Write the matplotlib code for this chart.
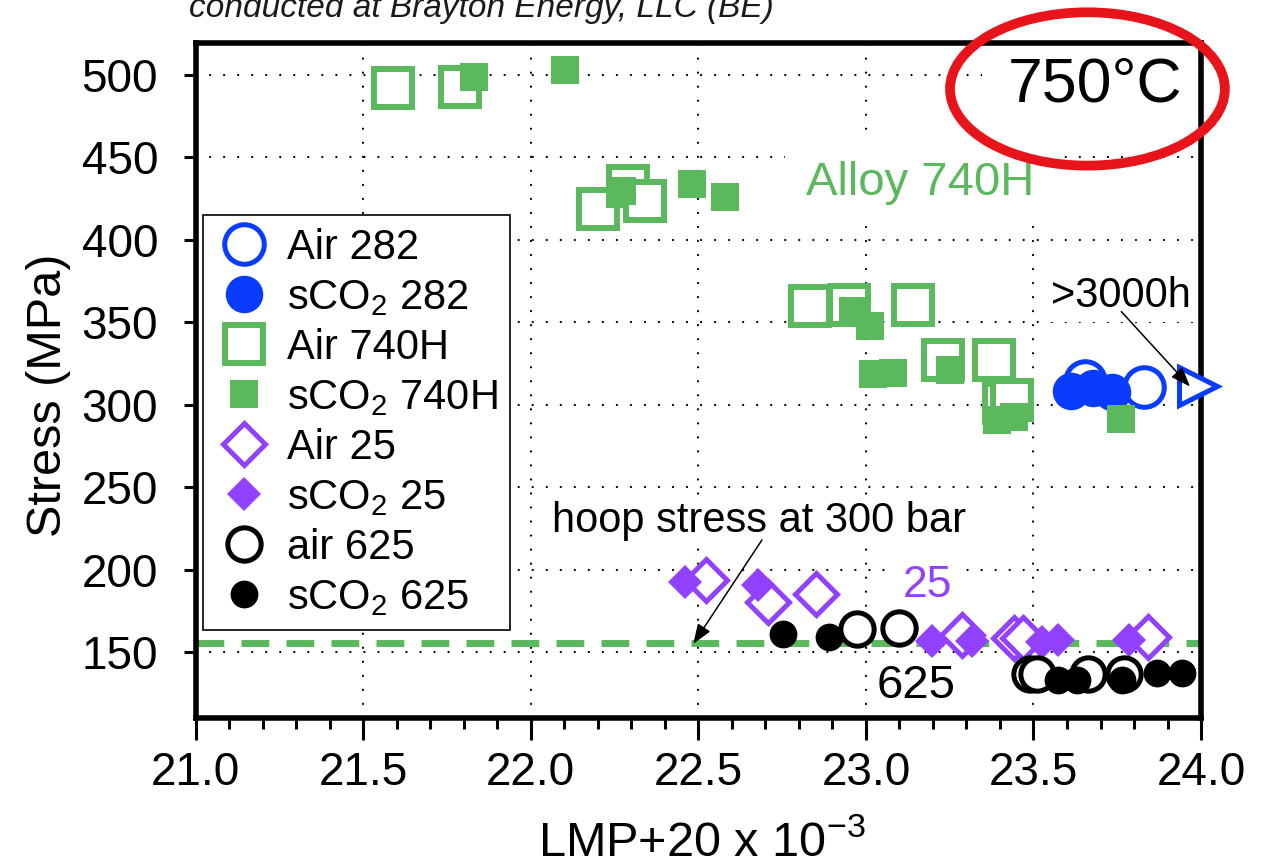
import matplotlib
matplotlib.use("Agg")
import matplotlib.pyplot as plt
from matplotlib.patches import Ellipse

plt.rcParams['font.family'] = ['Liberation Sans', 'DejaVu Sans']
plt.rcParams['mathtext.fontset'] = 'custom'
plt.rcParams['mathtext.rm'] = 'Liberation Sans'
plt.rcParams['mathtext.it'] = 'Liberation Sans:italic'
plt.rcParams['mathtext.bf'] = 'Liberation Sans:bold'
plt.rcParams['lines.scale_dashes'] = False
plt.rcParams['lines.dash_capstyle'] = 'round'

BLUE = '#0a3cff'
GREEN = '#5cb85c'
PURPLE = '#9141ff'

# creep rupture data at 750C, LMP+20 (x 10^-3) vs stress (MPa)
air282_lmp = [23.654, 23.830]
air282_mpa = [314.6, 310.5]
sco2_282_lmp = [23.611, 23.677, 23.733]
sco2_282_mpa = [308.6, 310.0, 307.6]
runout_lmp = [23.99]
runout_mpa = [311.5]

air740_lmp = [21.589, 21.790, 22.200, 22.290, 22.340, 22.833, 22.949, 23.141,
              23.231, 23.382, 23.412, 23.435]
air740_mpa = [491.9, 492.4, 418.9, 432.6, 423.4, 359.8, 360.7, 360.7,
              327.0, 327.0, 301.3, 303.1]
sco2_740_lmp = [21.830, 22.101, 22.271, 22.482, 22.581, 22.962, 23.011, 23.021,
                23.081, 23.252, 23.391, 23.441, 23.762]
sco2_740_mpa = [498.8, 503.0, 429.9, 433.6, 426.2, 357.0, 347.6, 318.8,
                319.3, 321.0, 290.6, 292.3, 291.1]

air25_lmp = [22.524, 22.709, 22.851, 23.288, 23.442, 23.470, 23.843]
air25_mpa = [193.8, 180.6, 185.5, 160.4, 158.4, 158.6, 159.4]
sco2_25_lmp = [22.460, 22.679, 23.198, 23.317, 23.526, 23.574, 23.785]
sco2_25_mpa = [192.4, 190.7, 157.0, 157.0, 156.4, 157.3, 157.3]

air625_lmp = [22.973, 23.099, 23.489, 23.510, 23.663, 23.770]
air625_mpa = [163.7, 164.5, 136.6, 136.6, 136.6, 136.6]
sco2_625_lmp = [22.752, 22.891, 23.574, 23.629, 23.763, 23.869, 23.942]
sco2_625_mpa = [161.2, 159.0, 133.1, 133.1, 133.1, 137.1, 137.1]

hoop_stress = 155.5  # MPa at 300 bar

x_ticks = [21.0, 21.5, 22.0, 22.5, 23.0, 23.5, 24.0]
y_ticks = [150, 200, 250, 300, 350, 400, 450, 500]

fig = plt.figure(figsize=(12.73, 8.68), dpi=100)
ax = fig.add_axes([0.1536, 0.1728, 0.7899, 0.7777])
ax.set_xlim(21.0, 24.0)
ax.set_ylim(110, 519.4)

ax.set_axisbelow(True)
ax.grid(True, which='major', color='black', linestyle=(0, (0.1, 10)), linewidth=1.6)

ax.axhline(hoop_stress, color=GREEN, linewidth=5, linestyle=(0, (20, 12.4)),
           dash_capstyle='butt', zorder=2)

# series, drawn in legend order
ax.plot(air282_lmp, air282_mpa, 'o', ms=28.5, mew=3.6, mec=BLUE, mfc='white',
        ls='none', label='Air 282', zorder=3)
ax.plot(sco2_282_lmp, sco2_282_mpa, 'o', ms=27, mew=0, mfc=BLUE,
        ls='none', label='sCO$_2$ 282', zorder=3)
ax.plot(runout_lmp, runout_mpa, '>', ms=27, mew=3.6, mec=BLUE, mfc='white',
        ls='none', clip_on=False, zorder=3)
ax.plot(air740_lmp, air740_mpa, 's', ms=28, mew=4.3, mec=GREEN, mfc='white',
        ls='none', label='Air 740H', zorder=3)
ax.plot(sco2_740_lmp, sco2_740_mpa, 's', ms=20, mew=0, mfc=GREEN,
        ls='none', label='sCO$_2$ 740H', zorder=3)
ax.plot(air25_lmp, air25_mpa, 'D', ms=21, mew=3.6, mec=PURPLE, mfc='white',
        ls='none', label='Air 25', zorder=3)
ax.plot(sco2_25_lmp, sco2_25_mpa, 'D', ms=17.8, mew=0, mfc=PURPLE,
        ls='none', label='sCO$_2$ 25', zorder=3)
ax.plot(air625_lmp, air625_mpa, 'o', ms=24, mew=3.6, mec='black', mfc='white',
        ls='none', label='air 625', zorder=3)
ax.plot(sco2_625_lmp, sco2_625_mpa, 'o', ms=20, mew=0, mfc='black',
        ls='none', label='sCO$_2$ 625', zorder=3)

leg = ax.legend(loc='upper left', bbox_to_anchor=(0.0075, 0.745), borderaxespad=0,
                fontsize=30, frameon=True, fancybox=False, framealpha=1,
                edgecolor='black', borderpad=0.3, handlelength=1.37,
                handletextpad=0.35, labelspacing=0.24, numpoints=1)
leg.get_frame().set_linewidth(1.2)

# labels on the plot
box = dict(facecolor='white', edgecolor='none', boxstyle='square,pad=0.15')
ax.text(23.943, 493.9, '750°C', fontsize=45, ha='right', va='center',
        bbox=dict(facecolor='white', edgecolor='none', boxstyle='square,pad=0.4'),
        zorder=1)
ax.text(23.163, 434.5, 'Alloy 740H', fontsize=34, color=GREEN, ha='center',
        va='center', bbox=dict(facecolor='white', edgecolor='none',
                               boxstyle='square,pad=0.45'), zorder=1)
ax.text(23.761, 366.0, '>3000h', fontsize=30, ha='center', va='center',
        bbox=box, zorder=1)
ax.text(22.681, 229.5, 'hoop stress at 300 bar', fontsize=30, ha='center',
        va='center', bbox=box, zorder=1)
ax.text(23.185, 190.1, '25', fontsize=32, color=PURPLE, ha='center',
        va='center', bbox=box, zorder=1)
ax.text(23.149, 129.5, '625', fontsize=34, ha='center', va='center',
        bbox=box, zorder=1)

arrow = dict(arrowstyle='-|>,head_length=1.2,head_width=0.45', color='black',
             lw=1.1, shrinkA=0, shrinkB=0)
ax.annotate('', xy=(23.967, 311.0), xytext=(23.762, 356.5), arrowprops=arrow,
            zorder=4)
ax.annotate('', xy=(22.485, 155.0), xytext=(22.690, 218.0), arrowprops=arrow,
            zorder=4)

ring = Ellipse((23.661, 491.5), 0.82, 93.0, fill=False, edgecolor='#e8141b',
               linewidth=7, clip_on=False, zorder=10)
ax.add_patch(ring)

# axes styling
for sp in ax.spines.values():
    sp.set_linewidth(4)
ax.set_xticks(x_ticks)
ax.set_xticklabels([f'{v:.1f}' for v in x_ticks])
ax.set_xticks([21 + 0.1 * i for i in range(31)], minor=True)
ax.set_yticks(y_ticks)
ax.tick_params(axis='both', which='major', labelsize=33, direction='out', width=2.2)
ax.tick_params(axis='x', which='major', length=16, pad=8)
ax.tick_params(axis='x', which='minor', length=8, width=2.2, direction='out')
ax.tick_params(axis='y', which='major', length=9, pad=18)

ax.set_xlabel('LMP+20 x 10$^{-3}$', fontsize=35)
ax.set_ylabel('Stress (MPa)', fontsize=35)
ax.xaxis.set_label_coords(0.5037, -0.151)
ax.yaxis.set_label_coords(-0.124, 0.478)

fig.text(0.1485, 0.9805, 'conducted at Brayton Energy, LLC (BE)', fontsize=24,
         style='italic', color='#1a1a1a', ha='left', va='baseline')

fig.savefig('out.png', dpi=100)
